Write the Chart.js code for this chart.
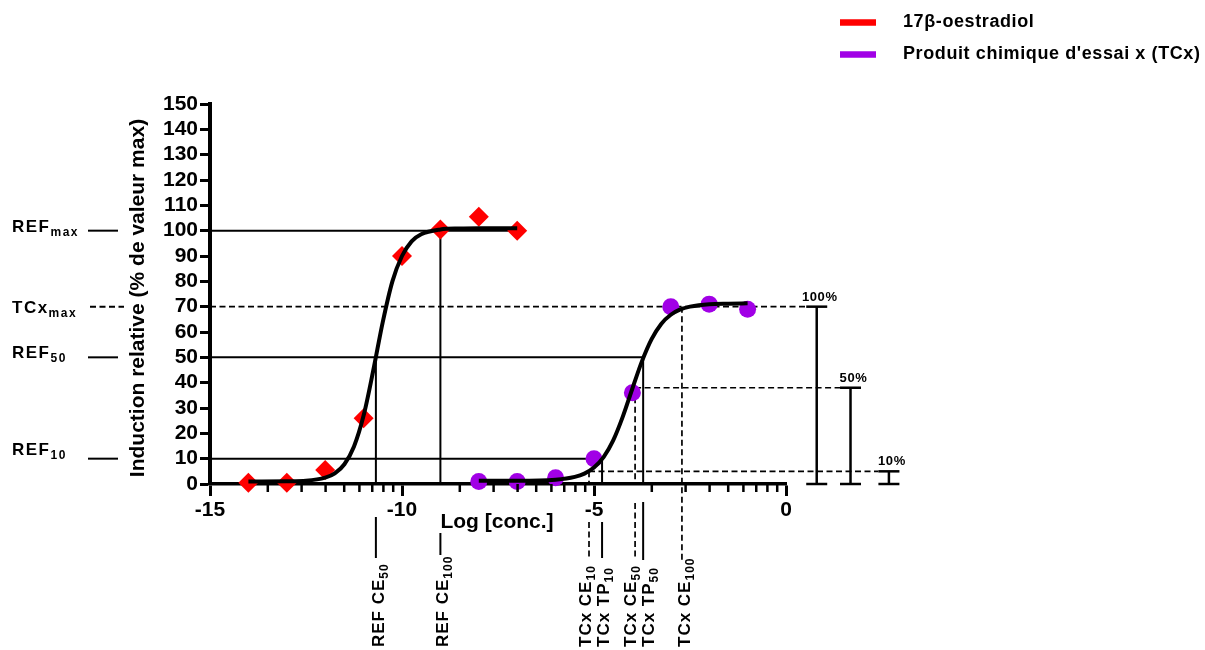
<!DOCTYPE html>
<html>
<head>
<meta charset="utf-8">
<script src="https://cdn.jsdelivr.net/npm/chart.js@4/dist/chart.umd.min.js"></script>
<style>
html,body{margin:0;padding:0;background:#fff}
#wrap{width:1205px;height:650px}
</style>
</head>
<body>
<div id="wrap"><canvas id="c" width="1205" height="650"></canvas></div>
<script>
const FONT = '"Liberation Sans", Arial, Helvetica, sans-serif';
const RED = '#ff0000', PURPLE = '#a100e6';

// measured points
const refLogConc = [-14, -13, -12, -11, -10, -9, -8, -7];
const refInduction = [0.5, 0.5, 5.5, 26, 90, 100.5, 105.5, 100];
const tcxLogConc = [-8, -7, -6, -5, -4, -3, -2, -1];
const tcxInduction = [1, 1, 2.5, 10, 36, 70, 71, 69];

// fitted curves
const refCurveX = [-14, -13, -12.5, -12, -11.75, -11.5, -11.25, -11, -10.75, -10.5, -10.25, -10, -9.75, -9.5, -9, -8.5, -8, -7];
const refCurveY = [1, 1.1, 1.3, 2.5, 4.2, 7.8, 14.8, 27, 44.7, 64, 80, 90, 95.8, 98.6, 100.5, 100.9, 101, 101];
const tcxCurveX = [-8, -7, -6, -5.5, -5.25, -5, -4.75, -4.5, -4.25, -4, -3.75, -3.5, -3.25, -3, -2.75, -2.5, -2, -1.5, -1];
const tcxCurveY = [1.3, 1.3, 1.7, 2.8, 4.1, 6.5, 10.6, 17.2, 26.6, 37.7, 48.5, 57.2, 63.2, 66.8, 68.9, 70, 71, 71.2, 71.3];

// axes
const xTicks = [-15, -10, -5, 0];
const yTicks = [0, 10, 20, 30, 40, 50, 60, 70, 80, 90, 100, 110, 120, 130, 140, 150];

// reference levels (% of max) and concentrations (log)
const refMax = 100, ref50 = 50, ref10 = 10;
const tcxMax = 70, tcx50 = 38, tcx10 = 5;
const refCE50 = -10.68, refCE100 = -9;
const tcxCE10 = -5.13, tcxTP10 = -4.79, tcxCE50 = -3.93, tcxTP50 = -3.72, tcxCE100 = -2.71;
const bracketX = [0.8, 1.68, 2.68];
const bracketLevels = [tcxMax, tcx50, tcx10];
const bracketText = ['100%', '50%', '10%'];

function toPts(xs, ys) { return xs.map((x, i) => ({x: x, y: ys[i]})); }

function line(ctx, x1, y1, x2, y2, w, dash) {
  ctx.save();
  ctx.lineWidth = w; ctx.strokeStyle = '#000';
  ctx.setLineDash(dash ? [6, 3.5] : []);
  ctx.beginPath(); ctx.moveTo(x1, y1); ctx.lineTo(x2, y2); ctx.stroke();
  ctx.restore();
}

function subText(ctx, x, y, main, sub, size, subSize, ls) {
  ctx.letterSpacing = ls + 'px';
  ctx.font = 'bold ' + size + 'px ' + FONT;
  ctx.fillText(main, x, y);
  const w = ctx.measureText(main).width;
  ctx.font = 'bold ' + subSize + 'px ' + FONT;
  ctx.fillText(sub, x + w, y + 4);
  ctx.letterSpacing = '0px';
}

const guides = {
  id: 'guides',
  beforeDatasetsDraw(chart) {
    const ctx = chart.ctx, X = v => chart.scales.x.getPixelForValue(v), Y = v => chart.scales.y.getPixelForValue(v);
    const cap = 10.5;
    // REF solid lines
    line(ctx, X(-15), Y(refMax), X(-7), Y(refMax), 2);
    line(ctx, X(refCE100), Y(refMax), X(refCE100), Y(0), 2);
    line(ctx, X(-15), Y(ref50), X(tcxTP50), Y(ref50), 2);
    line(ctx, X(refCE50), Y(ref50), X(refCE50), Y(0), 2);
    line(ctx, X(-15), Y(ref10), X(tcxTP10), Y(ref10), 2);
    line(ctx, X(tcxTP10), Y(ref10), X(tcxTP10), Y(0), 2);
    line(ctx, X(tcxTP50), Y(ref50), X(tcxTP50), Y(0), 2);
    // TCx dashed lines
    line(ctx, X(-15), Y(tcxMax), X(bracketX[0]) - cap, Y(tcxMax), 1.7, true);
    line(ctx, X(tcxCE50), Y(tcx50), X(bracketX[1]) - cap, Y(tcx50), 1.7, true);
    line(ctx, X(tcxCE10), Y(tcx10), X(bracketX[2]) - cap, Y(tcx10), 1.7, true);
    line(ctx, X(tcxCE10), Y(tcx10), X(tcxCE10), Y(0), 1.7, true);
    line(ctx, X(tcxCE50), Y(tcx50), X(tcxCE50), Y(0), 1.7, true);
    line(ctx, X(tcxCE100), Y(tcxMax), X(tcxCE100), 560, 1.7, true);
    // brackets
    ctx.fillStyle = '#000'; ctx.textAlign = 'center'; ctx.textBaseline = 'alphabetic';
    bracketX.forEach((b, i) => {
      const bx = X(b), top = Y(bracketLevels[i]), bot = Y(0);
      line(ctx, bx, top, bx, bot, 2.5);
      line(ctx, bx - cap, top, bx + cap, top, 2.5);
      line(ctx, bx - cap, bot, bx + cap, bot, 2.5);
      ctx.font = 'bold 13px ' + FONT; ctx.letterSpacing = '0.6px';
      ctx.fillText(bracketText[i], bx + 3, top - 6);
      ctx.letterSpacing = '0px';
    });
  },
  afterDraw(chart) {
    const ctx = chart.ctx, X = v => chart.scales.x.getPixelForValue(v), Y = v => chart.scales.y.getPixelForValue(v);
    const y0 = Y(0);
    // minor log ticks on x axis
    [-15, -10, -5].forEach(base => {
      for (let k = 2; k <= 9; k++) {
        const tx = X(base + 5 * Math.log10(k));
        line(ctx, tx, y0, tx, y0 + 8, 2.5);
      }
    });
    ctx.fillStyle = '#000';
    // axis titles
    ctx.save();
    ctx.font = 'bold 21px ' + FONT; ctx.textAlign = 'center'; ctx.textBaseline = 'middle';
    ctx.translate(138, 298); ctx.rotate(-Math.PI / 2);
    ctx.fillText('Induction relative (% de valeur max)', 0, 0);
    ctx.restore();
    ctx.font = 'bold 21px ' + FONT; ctx.textAlign = 'center'; ctx.textBaseline = 'middle';
    ctx.fillText('Log [conc.]', 497, 522);

    // left labels
    ctx.textAlign = 'left'; ctx.textBaseline = 'alphabetic';
    [['REF', 'max', refMax, false, 1], ['TCx', 'max', tcxMax, true, 6], ['REF', '50', ref50, false, 1], ['REF', '10', ref10, false, -4]].forEach(l => {
      const ly = Y(l[2]);
      subText(ctx, 12, ly + l[4], l[0], l[1], 17, 12, 1.5);
      line(ctx, l[3] ? 90 : 88, ly, l[3] ? 124 : 118, ly, 2, l[3]);
    });

    // vertical labels below the x axis
    const below = [
      ['REF CE', '50', refCE50, 2, 517, 558, false],
      ['REF CE', '100', refCE100, 2, 533, 555, false],
      ['TCx CE', '10', tcxCE10, -4, 522, 557, true],
      ['TCx TP', '10', tcxTP10, 1, 522, 558, false],
      ['TCx CE', '50', tcxCE50, -5, 503, 560, true],
      ['TCx TP', '50', tcxTP50, 5, 502, 560, false],
      ['TCx CE', '100', tcxCE100, 2, null, 560, true]
    ];
    below.forEach(b => {
      const bx = X(b[2]);
      if (b[4] !== null) line(ctx, bx, b[4], bx, b[5], b[6] ? 1.7 : 2, b[6]);
      ctx.save();
      ctx.translate(bx + b[3] + 6, 647); ctx.rotate(-Math.PI / 2);
      ctx.textAlign = 'left'; ctx.textBaseline = 'alphabetic';
      subText(ctx, 0, 0, b[0], b[1], 17, 12, 1);
      ctx.restore();
    });

    // legend
    const leg = [['17β-oestradiol', RED, 22.5], ["Produit chimique d'essai x (TCx)", PURPLE, 54.5]];
    leg.forEach(l => {
      ctx.save();
      ctx.strokeStyle = l[1]; ctx.lineWidth = 6.5;
      ctx.beginPath(); ctx.moveTo(840, l[2]); ctx.lineTo(876, l[2]); ctx.stroke();
      ctx.restore();
      ctx.fillStyle = '#000'; ctx.font = 'bold 18px ' + FONT; ctx.letterSpacing = '0.6px';
      ctx.textAlign = 'left'; ctx.textBaseline = 'middle';
      ctx.fillText(l[0], 903, l[2]);
      ctx.letterSpacing = '0px';
    });
  }
};

const tickFont = {family: FONT, size: 21, weight: 'bold'};

new Chart(document.getElementById('c'), {
  type: 'scatter',
  data: {
    datasets: [
      {label: '17β-oestradiol fit', data: toPts(refCurveX, refCurveY), showLine: true, borderColor: '#000', borderWidth: 4,
       pointRadius: 0, cubicInterpolationMode: 'monotone', order: 0, clip: false},
      {label: 'TCx fit', data: toPts(tcxCurveX, tcxCurveY), showLine: true, borderColor: '#000', borderWidth: 4,
       pointRadius: 0, cubicInterpolationMode: 'monotone', order: 0, clip: false},
      {label: '17β-oestradiol', data: toPts(refLogConc, refInduction), pointStyle: 'rectRot', pointRadius: 10,
       backgroundColor: RED, borderColor: RED, borderWidth: 0, order: 1, clip: false},
      {label: "Produit chimique d'essai x (TCx)", data: toPts(tcxLogConc, tcxInduction), pointStyle: 'circle', pointRadius: 8.5,
       backgroundColor: PURPLE, borderColor: PURPLE, borderWidth: 0, order: 1, clip: false}
    ]
  },
  options: {
    responsive: false, animation: false, devicePixelRatio: 1,
    layout: {padding: {top: 104, right: 419, bottom: 0, left: 0}},
    plugins: {legend: {display: false}, tooltip: {enabled: false}},
    scales: {
      x: {
        type: 'linear', min: -15, max: 0,
        afterBuildTicks: s => { s.ticks = xTicks.map(v => ({value: v})); },
        afterFit: s => { s.height = 166; },
        ticks: {font: tickFont, color: '#000', padding: 2, maxRotation: 0, autoSkip: false, callback: v => String(v)},
        grid: {drawOnChartArea: false, tickLength: 12, tickWidth: 3, color: '#000'},
        border: {width: 3.5, color: '#000'}
      },
      y: {
        min: 0, max: 150,
        afterBuildTicks: s => { s.ticks = yTicks.map(v => ({value: v})); },
        afterFit: s => { s.width = 210; },
        ticks: {font: tickFont, color: '#000', padding: 2, autoSkip: false},
        grid: {drawOnChartArea: false, tickLength: 10, tickWidth: 3, color: '#000'},
        border: {width: 4, color: '#000'}
      }
    }
  },
  plugins: [guides]
});
</script>
</body>
</html>
